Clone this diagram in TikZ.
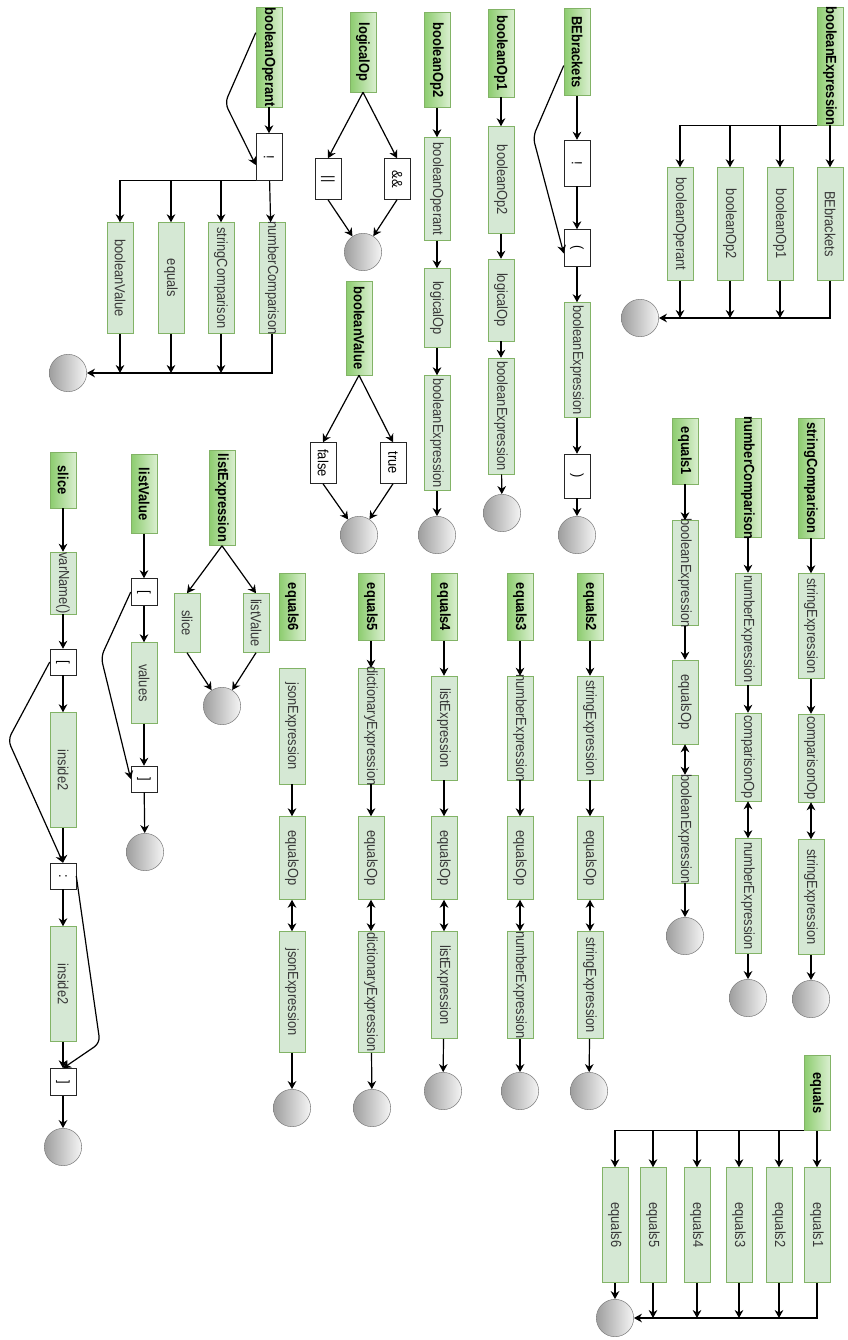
\documentclass[tikz,border=0pt]{standalone}
\usepackage{fontspec}
\setmainfont[FakeStretch=0.88]{Liberation Sans}
\usetikzlibrary{
    arrows.meta,
    calc
}
\definecolor{hdrDark}{RGB}{140,204,110}
\definecolor{hdrLight}{RGB}{218,239,208}
\definecolor{ntFill}{RGB}{213,232,212}
\definecolor{ntLine}{RGB}{130,179,102}
\tikzset{
  fixlen/.style = {execute at begin node={\hbox to 0pt\bgroup\hss},
                   execute at end node={\hss\egroup}},
  hdr/.style   = {draw=ntLine, left color=hdrDark, right color=hdrLight,
                  rotate=-90, minimum height=19.5pt, minimum width={#1*0.75pt},
                  inner sep=0.5pt, fixlen,
                  font=\fontsize{11}{13}\selectfont\bfseries},
  hdr/.default = 80,
  nt/.style    = {draw=ntLine, fill=ntFill, rotate=-90, minimum height=19.5pt,
                  minimum width={#1*0.75pt}, inner sep=0.5pt, fixlen,
                  text=black!78},
  nt/.default  = 110,
  term/.style  = {draw=black!85, fill=white, rotate=-90, minimum height=19.5pt,
                  minimum width={#1*0.75pt}, inner sep=0.5pt},
  term/.default = 30,
  fin/.style   = {circle, draw=black!50, left color=black!38, right color=black!4,
                  minimum size=28pt, inner sep=0pt},
  arr/.style   = {-{Stealth[length=6pt,width=6.5pt]}, line width=0.9pt},
  darr/.style  = {{Stealth[length=6pt,width=6.5pt]}-{Stealth[length=6pt,width=6.5pt]},
                  line width=0.9pt}
}

\begin{document}
\begin{tikzpicture}[
    x=0.75pt, y=-0.75pt,
    font=\fontsize{11}{13}\selectfont
]
\useasboundingbox (0,0) rectangle (847,1340);

% booleanExpression
\node[hdr=118] (bexH) at (830,66) {booleanExpression};
\node[nt=113] (bexD) at (830,224) {BEbrackets};
\node[nt=113] (bexC) at (780,224) {booleanOp1};
\node[nt=113] (bexB) at (730,224) {booleanOp2};
\node[nt=113] (bexA) at (680,224) {booleanOperant};
\node[fin] (bexE) at (640,318) {};
\draw[arr] (bexH) -- (bexD);
\draw[arr] (bexH.south east) -| (bexC);
\draw[arr] (bexH.south east) -| (bexB);
\draw[arr] (bexH.south east) -| (bexA);
\draw[arr] (bexD) |- (bexE);
\draw[arr] (bexC) -- (bexC |- bexE);
\draw[arr] (bexB) -- (bexB |- bexE);
\draw[arr] (bexA) -- (bexA |- bexE);

% booleanOperant
\node[hdr=100] (bopH) at (269,57) {booleanOperant};
\node[term=47] (bopN) at (269,157) {!};
\node[nt=111] (bop4) at (272,278) {numberComparison};
\node[nt=111] (bop3) at (221,278) {stringComparison};
\node[nt=111] (bop2) at (171,278) {equals};
\node[nt=111] (bop1) at (120,278) {booleanValue};
\node[fin] (bopE) at (68,373) {};
\coordinate (bopK) at (225,103);
\draw[arr] (bopH) -- (bopN);
\draw[arr, rounded corners=5pt] ([yshift=-19.5pt]bopH.south west) -- (bopK)
    -- ([yshift=-6pt]bopN.south);
\draw[arr] (bopN) -- (bop4);
\draw[arr] (bopN.south east) -| (bop3);
\draw[arr] (bopN.south east) -| (bop2);
\draw[arr] (bopN.south east) -| (bop1);
\draw[arr] (bop4) |- (bopE);
\draw[arr] (bop3) -- (bop3 |- bopE);
\draw[arr] (bop2) -- (bop2 |- bopE);
\draw[arr] (bop1) -- (bop1 |- bopE);

% logicalOp
\node[hdr=80] (lopH) at (363,52) {logicalOp};
\node[term=41] (lopA) at (328,179) {||};
\node[term=41] (lopB) at (397,179) {\&\&};
\node[fin] (lopE) at (363,252) {};
\draw[arr] (lopH.east) -- (lopA.west);
\draw[arr] (lopH.east) -- (lopB.west);
\draw[arr] (lopA.east) -- (lopE);
\draw[arr] (lopB.east) -- (lopE);

% booleanValue
\node[hdr=94] (bvH) at (359,328) {booleanValue};
\node[term=41] (bvA) at (323,463) {false};
\node[term=41] (bvB) at (393,463) {true};
\node[fin] (bvE) at (359,535) {};
\draw[arr] (bvH.east) -- (bvA.west);
\draw[arr] (bvH.east) -- (bvB.west);
\draw[arr] (bvA.east) -- (bvE);
\draw[arr] (bvB.east) -- (bvE);

% booleanOp2
\node[hdr=95] (bo2H) at (437,60) {booleanOp2};
\node[nt=103] (bo2A) at (437,189) {booleanOperant};
\node[nt=79] (bo2B) at (437,308) {logicalOp};
\node[nt=115] (bo2C) at (437,433) {booleanExpression};
\node[fin] (bo2E) at (437,535) {};
\draw[arr] (bo2H) -- (bo2A);
\draw[arr] (bo2A) -- (bo2B);
\draw[arr] (bo2B) -- (bo2C);
\draw[arr] (bo2C) -- (bo2E);

% booleanOp1
\node[hdr=88] (bo1H) at (501,53) {booleanOp1};
\node[nt=107] (bo1A) at (501,180) {booleanOp2};
\node[nt=82] (bo1B) at (501,300) {logicalOp};
\node[nt=116] (bo1C) at (501,416) {booleanExpression};
\node[fin] (bo1E) at (502,513) {};
\draw[arr] (bo1H) -- (bo1A);
\draw[arr] (bo1A) -- (bo1B);
\draw[arr] (bo1B) -- (bo1C);
\draw[arr] (bo1C) -- (bo1E);

% BEbrackets
\node[hdr=87] (bebH) at (577,52) {BEbrackets};
\node[term=46] (bebA) at (577,163) {!};
\node[term=37] (bebB) at (577,248) {(};
\node[nt=115] (bebC) at (577,360) {booleanExpression};
\node[term=44] (bebD) at (577,476) {)};
\node[fin] (bebE) at (577,535) {};
\coordinate (bebK) at (533,137);
\draw[arr] (bebH) -- (bebA);
\draw[arr, rounded corners=5pt] ([yshift=-43pt]bebH.south west) -- (bebK)
    -- ([yshift=-4pt]bebB.south);
\draw[arr] (bebA) -- (bebB);
\draw[arr] (bebB) -- (bebC);
\draw[arr] (bebC) -- (bebD);
\draw[arr] (bebD) -- (bebE);

% equals1
\node[hdr=66] (e1H) at (685,451) {equals1};
\node[nt=105] (e1A) at (685,573) {booleanExpression};
\node[nt=84] (e1B) at (685,702) {equalsOp};
\node[nt=108] (e1C) at (685,829) {booleanExpression};
\node[fin] (e1E) at (685,936) {};
\draw[arr] (e1H) -- (e1A);
\draw[arr] (e1A) -- (e1B);
\draw[darr] (e1B) -- (e1C);
\draw[arr] (e1C) -- (e1E);

% numberComparison
\node[hdr=119] (ncH) at (748,478) {numberComparison};
\node[nt=112] (ncA) at (748,629) {numberExpression};
\node[nt=88] (ncB) at (748,757) {comparisonOp};
\node[nt=115] (ncC) at (748,896) {numberExpression};
\node[fin] (ncE) at (748,998) {};
\draw[arr] (ncH) -- (ncA);
\draw[arr] (ncA) -- (ncB);
\draw[darr] (ncB) -- (ncC);
\draw[arr] (ncC) -- (ncE);

% stringComparison
\node[hdr=120] (scH) at (811,478) {stringComparison};
\node[nt=105] (scA) at (811,626) {stringExpression};
\node[nt=88] (scB) at (811,758) {comparisonOp};
\node[nt=115] (scC) at (811,897) {stringExpression};
\node[fin] (scE) at (811,999) {};
\draw[arr] (scH) -- (scA);
\draw[arr] (scA) -- (scB);
\draw[darr] (scB) -- (scC);
\draw[arr] (scC) -- (scE);

% equals2
\node[hdr=67] (e2H) at (590,607) {equals2};
\node[nt=104] (e2A) at (590,728) {stringExpression};
\node[nt=83] (e2B) at (590,858) {equalsOp};
\node[nt=107] (e2C) at (590,985) {stringExpression};
\node[fin] (e2E) at (589,1091) {};
\draw[arr] (e2H) -- (e2A);
\draw[arr] (e2A) -- (e2B);
\draw[darr] (e2B) -- (e2C);
\draw[arr] (e2C) -- (e2E);

% equals3
\node[hdr=67] (e3H) at (520,607) {equals3};
\node[nt=104] (e3A) at (520,728) {numberExpression};
\node[nt=83] (e3B) at (520,858) {equalsOp};
\node[nt=107] (e3C) at (520,985) {numberExpression};
\node[fin] (e3E) at (520,1091) {};
\draw[arr] (e3H) -- (e3A);
\draw[arr] (e3A) -- (e3B);
\draw[darr] (e3B) -- (e3C);
\draw[arr] (e3C) -- (e3E);

% equals4
\node[hdr=67] (e4H) at (444,607) {equals4};
\node[nt=104] (e4A) at (444,728) {listExpression};
\node[nt=83] (e4B) at (444,858) {equalsOp};
\node[nt=107] (e4C) at (444,985) {listExpression};
\node[fin] (e4E) at (443,1091) {};
\draw[arr] (e4H) -- (e4A);
\draw[arr] (e4A) -- (e4B);
\draw[darr] (e4B) -- (e4C);
\draw[arr] (e4C) -- (e4E);

% equals5
\node[hdr=67] (e5H) at (371,607) {equals5};
\node[nt=116] (e5A) at (371,726) {dictionaryExpression};
\node[nt=83] (e5B) at (371,858) {equalsOp};
\node[nt=121] (e5C) at (371,992) {dictionaryExpression};
\node[fin] (e5E) at (372,1108) {};
\draw[arr] (e5H) -- (e5A);
\draw[arr] (e5A) -- (e5B);
\draw[darr] (e5B) -- (e5C);
\draw[arr] (e5C) -- (e5E);

% equals6
\node[hdr=67] (e6H) at (292,607) {equals6};
\node[nt=116] (e6A) at (292,726) {jsonExpression};
\node[nt=83] (e6B) at (292,858) {equalsOp};
\node[nt=121] (e6C) at (292,992) {jsonExpression};
\node[fin] (e6E) at (292,1108) {};
\draw[arr] (e6A) -- (e6B);
\draw[darr] (e6B) -- (e6C);
\draw[arr] (e6C) -- (e6E);

% listExpression
\node[hdr=95] (leH) at (222,498) {listExpression};
\node[nt=59] (leA) at (187,623) {slice};
\node[nt=59] (leB) at (256,623) {listValue};
\node[fin] (leE) at (222,706) {};
\draw[arr] (leH.east) -- (leA.west);
\draw[arr] (leH.east) -- (leB.west);
\draw[arr] (leA.east) -- (leE);
\draw[arr] (leB.east) -- (leE);

% listValue
\node[hdr=79] (lvH) at (144,494) {listValue};
\node[term=27] (lvA) at (144,592) {[};
\node[nt=81] (lvB) at (144,683) {values};
\node[term=26] (lvC) at (144,779) {]};
\node[fin] (lvE) at (145,852) {};
\coordinate (lvK) at (101,657);
\draw[arr] (lvH) -- (lvA);
\draw[arr] (lvA) -- (lvB);
\draw[arr] (lvB) -- (lvC);
\draw[arr] (lvC) -- (lvE);
\draw[arr, rounded corners=5pt] (lvA.south) -- (lvK) -- (lvC.south);

% slice
\node[hdr=56] (slH) at (63,480) {slice};
\node[nt=62] (slA) at (63,583) {varName()};
\node[term=26] (slB) at (63,662) {[};
\node[nt=115] (slC) at (63,770) {inside2};
\node[term=26] (slD) at (63,876) {:};
\node[nt=115] (slF) at (63,984) {inside2};
\node[term=27] (slG) at (63,1082) {]};
\node[fin] (slE) at (63,1147) {};
\coordinate (slK) at (8,740);
\coordinate (slL) at (100,1043);
\draw[arr] (slH) -- (slA);
\draw[arr] (slA) -- (slB);
\draw[arr] (slB) -- (slC);
\draw[arr] (slC) -- (slD);
\draw[arr] (slD) -- (slF);
\draw[arr] (slF) -- (slG);
\draw[arr] (slG) -- (slE);
\draw[arr, rounded corners=5pt] (slB.south) -- (slK) -- (slD.west);
\draw[arr, rounded corners=5pt] (slD.north) -- (slL) -- (slG.west);

% equals
\node[hdr=75] (eqH) at (817,1093) {equals};
\node[nt=115] (eq1) at (817,1225) {equals1};
\node[nt=115] (eq2) at (779,1225) {equals2};
\node[nt=115] (eq3) at (739,1225) {equals3};
\node[nt=115] (eq4) at (697,1225) {equals4};
\node[nt=115] (eq5) at (653,1225) {equals5};
\node[nt=115] (eq6) at (615,1225) {equals6};
\node[fin] (eqE) at (615,1318) {};
\draw[arr] (eqH) -- (eq1);
\draw[arr] (eqH.south east) -| (eq2);
\draw[arr] (eqH.south east) -| (eq3);
\draw[arr] (eqH.south east) -| (eq4);
\draw[arr] (eqH.south east) -| (eq5);
\draw[arr] (eqH.south east) -| (eq6);
\draw[arr] (eq1) |- (eqE);
\draw[arr] (eq2) -- (eq2 |- eqE);
\draw[arr] (eq3) -- (eq3 |- eqE);
\draw[arr] (eq4) -- (eq4 |- eqE);
\draw[arr] (eq5) -- (eq5 |- eqE);
\draw[arr] (eq6) -- (eqE);

\end{tikzpicture}
\end{document}
